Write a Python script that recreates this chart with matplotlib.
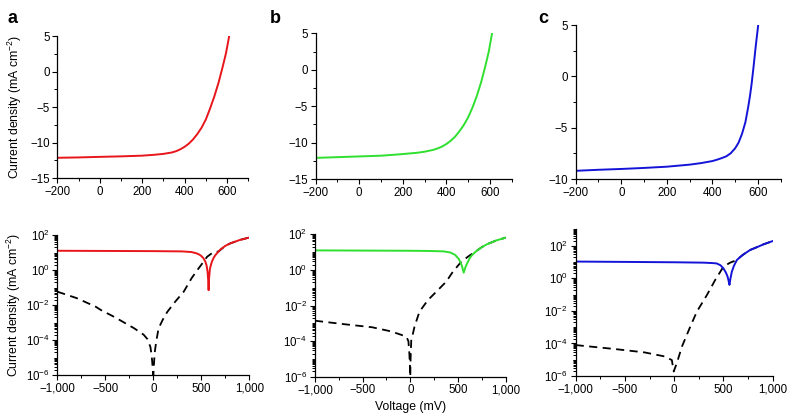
import numpy as np
import matplotlib
matplotlib.use("Agg")
import matplotlib.pyplot as plt
from matplotlib.ticker import MultipleLocator, FixedLocator, FuncFormatter, LogLocator, NullFormatter

plt.rcParams["font.family"] = ["Liberation Sans", "DejaVu Sans"]
plt.rcParams["mathtext.default"] = "regular"
plt.rcParams["axes.unicode_minus"] = True

# ---- J-V curves under light (top row), mV / mA cm-2
v_red = [-200, -100, 0, 100, 200, 260, 300, 340, 360, 380, 400, 420, 440, 460, 480, 500,
         520, 540, 560, 580, 595, 610]
j_red = [-12.15, -12.1, -12.02, -11.95, -11.85, -11.72, -11.6, -11.4, -11.22, -10.95, -10.6,
         -10.15, -9.55, -8.8, -7.9, -6.75, -5.2, -3.5, -1.55, 0.75, 2.6, 5.0]

v_green = [-200, -100, 0, 100, 190, 265, 300, 340, 360, 380, 400, 420, 440, 460, 480, 500,
           520, 540, 560, 580, 595, 610]
j_green = [-12.1, -12.0, -11.9, -11.8, -11.6, -11.4, -11.25, -11.0, -10.8, -10.55, -10.2,
           -9.75, -9.2, -8.45, -7.6, -6.55, -5.2, -3.6, -1.7, 0.6, 2.5, 5.0]

v_blue = [-200, -100, 0, 100, 200, 300, 350, 400, 420, 440, 460, 480, 500, 515, 530, 545,
          557, 565, 572, 580, 590, 601]
j_blue = [-9.2, -9.1, -9.02, -8.92, -8.8, -8.6, -8.45, -8.25, -8.12, -7.97, -7.8, -7.5,
          -7.0, -6.45, -5.6, -4.45, -3.0, -1.9, -0.75, 0.8, 2.9, 5.0]

# ---- |J| on log scale (bottom row): light (colour) and dark (dashed)
vl_red = [-1000, -500, 0, 300, 400, 450, 480, 500, 520, 540, 555, 565, 572, 576, 580, 590,
          610, 630, 650, 680, 700, 750, 800, 900, 1000]
jl_red = [12.6, 12.3, 12.0, 11.6, 10.6, 9.0, 7.6, 6.3, 4.9, 3.2, 1.8, 0.8, 0.25, 0.07, 0.3,
          1.2, 3.0, 5.2, 7.5, 11.5, 15, 24, 33, 52, 72]
vd_red = [-1000, -800, -600, -544, -400, -200, -100, -60, -30, -15, -5, -1,
          1, 5, 15, 30, 55, 100, 145, 230, 317, 400, 472, 520, 560, 620, 680, 750, 800, 900, 1000]
jd_red = [0.058, 0.025, 0.008, 5.1e-3, 2e-3, 4.7e-4, 2e-4, 1.1e-4, 4e-5, 1e-5, 2e-6, 1e-6,
          1e-6, 3e-6, 2e-5, 8e-5, 4.7e-4, 1.5e-3, 4e-3, 1.6e-2, 5.8e-2, 0.35, 1.25, 2.8, 5.7,
          10, 11.5, 24, 33, 52, 72]

vl_green = [-1000, -500, 0, 200, 350, 420, 470, 510, 540, 560, 580, 600, 625, 650, 680, 710,
            750, 800, 900, 1000]
jl_green = [12.5, 12.2, 11.9, 11.6, 11.0, 9.5, 7.0, 4.0, 1.8, 0.7, 1.5, 2.6, 4.8, 7.0, 10,
            13.5, 19, 27, 45, 65]
vd_green = [-1000, -700, -400, -200, -42, -20, -10, -3, -0.5,
            3, 10, 17, 44, 96, 184, 290, 377, 447, 535, 622, 680, 710, 750, 800, 900, 1000]
jd_green = [1.4e-3, 9e-4, 6e-4, 3.5e-4, 1.8e-4, 1e-4, 2e-5, 3e-6, 1e-6,
            1e-5, 1.2e-4, 1.5e-4, 6.5e-4, 4.5e-3, 2e-2, 7.4e-2, 0.22, 0.8, 2.9, 6.5, 10,
            13.5, 19, 27, 45, 65]

vl_blue = [-1000, -500, 0, 300, 400, 433, 470, 500, 525, 541, 552, 561, 570, 585, 605, 620,
           636, 670, 700, 771, 850, 907, 1000]
jl_blue = [10.5, 10.0, 9.5, 9.0, 8.4, 8.0, 6.2, 4.0, 2.2, 1.3, 0.7, 0.39, 0.9, 2.5, 5.5, 8.5,
           13, 20, 28, 54, 85, 120, 190]
vd_blue = [-1000, -600, -300, -100, -24, -5,
           27, 78, 163, 230, 332, 416, 500, 568, 636, 670, 700, 771, 850, 907, 1000]
jd_blue = [7.9e-5, 4.5e-5, 2.8e-5, 1.6e-5, 9.5e-6, 1.9e-6,
           6.3e-6, 6.3e-5, 1.07e-3, 8.9e-3, 9.3e-2, 0.78, 5.1, 9.0, 13, 20, 28, 54, 85, 120, 190]

panels = [
    ("a", "#e8161b", v_red, j_red, vl_red, jl_red, vd_red, jd_red, (-15, 5), 1e2),
    ("b", "#2fe02f", v_green, j_green, vl_green, jl_green, vd_green, jd_green, (-15, 5), 1e2),
    ("c", "#1414d8", v_blue, j_blue, vl_blue, jl_blue, vd_blue, jd_blue, (-10, 5), 1e3),
]

top_pos = [[0.0727, 0.5731, 0.2424, 0.3405],
           [0.4006, 0.5707, 0.2487, 0.3494],
           [0.7306, 0.5707, 0.2602, 0.3693]]
bot_pos = [[0.0727, 0.1007, 0.2437, 0.3357],
           [0.3997, 0.0966, 0.2420, 0.3415],
           [0.7306, 0.0983, 0.2500, 0.3518]]
letter_x = [0.010, 0.343, 0.683]


def fmt_int(v, pos):
    s = f"{abs(v):,.0f}"
    return ("\u2212" + s) if v < 0 else s


def style(ax):
    for s in ["top", "right"]:
        ax.spines[s].set_visible(False)
    for s in ["left", "bottom"]:
        ax.spines[s].set_linewidth(0.9)
    ax.tick_params(which="major", direction="out", length=3.5, width=0.8, labelsize=8.3, pad=2)
    ax.tick_params(which="minor", direction="out", length=2, width=0.7)


fig = plt.figure(figsize=(7.88, 4.17), dpi=100)
ylab = "Current density (mA cm$^{-2}$)"

for i, (letter, color, v, j, vl, jl, vd, jd, ylim, ytop) in enumerate(panels):
    ax = fig.add_axes(top_pos[i])
    ax.plot(v, j, color=color, lw=1.4)
    ax.set_xlim(-200, 700)
    ax.set_ylim(*ylim)
    ax.xaxis.set_major_locator(FixedLocator([-200, 0, 200, 400, 600]))
    ax.xaxis.set_minor_locator(MultipleLocator(100))
    ax.yaxis.set_major_locator(MultipleLocator(5))
    ax.yaxis.set_minor_locator(MultipleLocator(2.5))
    ax.xaxis.set_major_formatter(FuncFormatter(fmt_int))
    ax.yaxis.set_major_formatter(FuncFormatter(fmt_int))
    style(ax)
    if i == 0:
        ax.set_ylabel(ylab, fontsize=8.8, labelpad=4)
    fig.text(letter_x[i], 0.975, letter, fontsize=13, fontweight="bold", va="top")

    bx = fig.add_axes(bot_pos[i])
    bx.set_yscale("log")
    bx.plot(vd, jd, color="black", lw=1.3, ls=(0, (4.5, 3)))
    bx.plot(vl, jl, color=color, lw=1.4)
    bx.set_xlim(-1000, 1000)
    bx.set_ylim(1e-6, ytop)
    bx.xaxis.set_major_locator(FixedLocator([-1000, -500, 0, 500, 1000]))
    bx.xaxis.set_minor_locator(MultipleLocator(250))
    bx.xaxis.set_major_formatter(FuncFormatter(fmt_int))
    bx.yaxis.set_major_locator(FixedLocator([1e-6, 1e-4, 1e-2, 1e0, 1e2]))
    bx.yaxis.set_minor_locator(LogLocator(base=10, subs=np.arange(1, 10), numticks=30))
    bx.yaxis.set_minor_formatter(NullFormatter())
    style(bx)
    if i == 0:
        bx.set_ylabel(ylab, fontsize=8.8, labelpad=2)
    if i == 1:
        bx.set_xlabel("Voltage (mV)", fontsize=8.8, labelpad=3)

fig.savefig("out.png", dpi=100)
